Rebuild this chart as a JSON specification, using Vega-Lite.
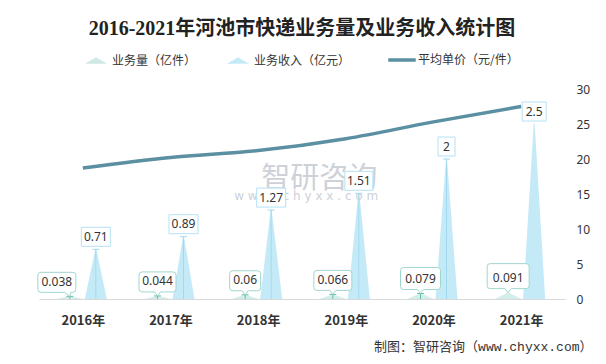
{
  "$schema": "https://vega.github.io/schema/vega-lite/v6.json",
  "width": 526,
  "height": 210,
  "autosize": {"type": "none"},
  "padding": {"left": 39, "top": 89, "right": 41, "bottom": 65},
  "background": "white",
  "title": {
    "text": "2016-2021年河池市快递业务量及业务收入统计图",
    "font": "Liberation Serif, Noto Sans CJK SC",
    "fontSize": 20,
    "fontWeight": "bold",
    "color": "#222222",
    "anchor": "middle",
    "offset": 15
  },
  "config": {"view": {"stroke": null}, "axis": {"grid": false}},
  "data": {
    "values": [
      {"year": "2016年", "volume": 0.038, "revenue": 0.71, "price": 18.7},
      {"year": "2017年", "volume": 0.044, "revenue": 0.89, "price": 20.2},
      {"year": "2018年", "volume": 0.06, "revenue": 1.27, "price": 21.2},
      {"year": "2019年", "volume": 0.066, "revenue": 1.51, "price": 22.9},
      {"year": "2020年", "volume": 0.079, "revenue": 2, "price": 25.3},
      {"year": "2021年", "volume": 0.091, "revenue": 2.5, "price": 27.5}
    ]
  },
  "encoding": {
    "x": {
      "field": "year",
      "type": "nominal",
      "sort": null,
      "scale": {"type": "point", "padding": 0.5},
      "axis": {
        "labelAngle": 0,
        "labelFont": "Noto Sans CJK SC",
        "labelFontWeight": "bold",
        "labelFontSize": 13,
        "labelColor": "#333333",
        "labelPadding": 15,
        "ticks": false,
        "domainColor": "#d9d9d9",
        "title": "制图：智研咨询（www.chyxx.com）",
        "titleFont": "Liberation Mono, Noto Sans CJK SC",
        "titleFontSize": 13,
        "titleFontWeight": "normal",
        "titleColor": "#333333",
        "titleX": 553,
        "titleY": 47,
        "titleAlign": "right",
        "titleBaseline": "middle"
      }
    }
  },
  "layer": [
    {
      "transform": [
        {"fold": ["volume", "revenue"], "as": ["series", "value"]},
        {"impute": "value", "key": "series", "keyvals": ["base"], "groupby": ["year"], "value": 0}
      ],
      "resolve": {"scale": {"size": "independent"}},
      "layer": [
        {
          "transform": [{"filter": "datum.series !== 'revenue'"}],
          "mark": {"type": "trail", "clip": true, "xOffset": -13},
          "encoding": {
            "y": {"field": "value", "type": "quantitative", "scale": {"domain": [0, 3], "nice": false}, "axis": null},
            "detail": {"field": "year", "type": "nominal"},
            "order": {"field": "value", "type": "quantitative"},
            "size": {"field": "value", "type": "quantitative", "scale": {"domain": [0, 0.01], "range": [27, 0], "clamp": true, "zero": false, "nice": false}, "legend": null},
            "color": {
              "datum": "业务量（亿件）",
              "scale": {
                "domain": ["业务量（亿件）", "业务收入（亿元）", "平均单价（元/件）"],
                "range": ["#d3ede9", "#c4eaf8", "#5b8fa2"]
              },
              "legend": {
                "title": null,
                "orient": "none",
                "legendX": 51,
                "legendY": -35,
                "direction": "horizontal",
                "symbolSize": 484,
                "labelOffset": 10,
                "columnPadding": 30,
                "labelFont": "Noto Sans CJK SC",
                "labelFontSize": 12,
                "labelColor": "#333333",
                "encode": {
                  "symbols": {
                    "update": {
                      "shape": {"signal": "datum.value === '平均单价（元/件）' ? 'M-1.25,0H1.25' : 'M-1,0.3L0,-0.3L1,0.3Z'"},
                      "fill": {"signal": "datum.value === '平均单价（元/件）' ? 'transparent' : (datum.value === '业务量（亿件）' ? '#cfe9e5' : '#c4eaf8')"},
                      "stroke": {"signal": "datum.value === '平均单价（元/件）' ? '#5b8fa2' : 'transparent'"},
                      "strokeWidth": {"signal": "datum.value === '平均单价（元/件）' ? 3.5 : 0"},
                      "opacity": {"value": 1}
                    }
                  }
                }
              }
            }
          }
        },
        {
          "transform": [{"filter": "datum.series !== 'volume'"}],
          "mark": {"type": "trail", "clip": true, "xOffset": 13},
          "encoding": {
            "y": {"field": "value", "type": "quantitative", "scale": {"domain": [0, 3], "nice": false}, "axis": null},
            "detail": {"field": "year", "type": "nominal"},
            "order": {"field": "value", "type": "quantitative"},
            "size": {"field": "value", "type": "quantitative", "scale": {"domain": [0, 0.01], "range": [22, 0], "clamp": true, "zero": false, "nice": false}, "legend": null},
            "color": {"datum": "业务收入（亿元）"}
          }
        }
      ]
    },
    {
      "mark": {"type": "line", "strokeWidth": 3.5, "interpolate": "monotone"},
      "encoding": {
        "y": {
          "field": "price",
          "type": "quantitative",
          "scale": {"domain": [0, 30], "nice": false},
          "axis": {
            "orient": "right",
            "values": [0, 5, 10, 15, 20, 25, 30],
            "domain": false,
            "ticks": false,
            "grid": false,
            "labelPadding": 11,
            "labelFont": "Noto Sans",
            "labelFontSize": 12,
            "labelColor": "#333333",
            "title": null
          }
        },
        "color": {"datum": "平均单价（元/件）"}
      }
    },
    {
      "resolve": {"scale": {"shape": "independent"}},
      "layer": [
        {
          "transform": [{"filter": "datum.year === '2018年'"}],
          "mark": {"type": "text", "font": "Noto Sans CJK SC", "fontSize": 29, "color": "#cdd1d8", "dx": 61},
          "encoding": {
            "y": {"datum": 1.72, "type": "quantitative", "scale": {"domain": [0, 3], "nice": false}, "axis": null},
            "text": {"value": "智研咨询"}
          }
        },
        {
          "transform": [{"filter": "datum.year === '2018年'"}],
          "mark": {"type": "text", "font": "DejaVu Sans", "fontSize": 12, "color": "#cdd1d8", "dx": 48},
          "encoding": {
            "y": {"datum": 1.47, "type": "quantitative"},
            "text": {"value": "w w w . c h y x x . c o m"}
          }
        },
        {
          "transform": [{"filter": "datum.year !== '2021年'"}],
          "mark": {"type": "rule", "color": "#a3d9ee", "strokeWidth": 1, "xOffset": 13},
          "encoding": {
            "y": {"field": "revenue", "type": "quantitative"},
            "y2": {"datum": 0}
          }
        },
        {
          "transform": [{"filter": "datum.year !== '2021年'"}],
          "mark": {"type": "tick", "color": "#a3d9ee", "thickness": 1, "size": 7, "xOffset": 13, "opacity": 1},
          "encoding": {"y": {"field": "revenue", "type": "quantitative"}}
        },
        {
          "mark": {"type": "point", "filled": true, "fill": "white", "stroke": "#b4e2f3", "strokeWidth": 1, "size": 4, "xOffset": 13, "opacity": 1},
          "encoding": {
            "y": {"field": "revenue", "type": "quantitative"},
            "shape": {
              "field": "year",
              "type": "nominal",
              "scale": {
                "domain": ["2016年", "2017年", "2018年", "2019年", "2020年", "2021年"],
                "range": [
                  "M-14.5,-22H14.5V-3H-14.5Z",
                  "M-14.5,-22H14.5V-3H-14.5Z",
                  "M-14.5,-22H14.5V-3H-14.5Z",
                  "M-14,-22H14V-3H-14Z",
                  "M-8.5,-22H8.5V-3H-8.5Z",
                  "M-12,-22H12V-3H-12Z"
                ]
              },
              "legend": null
            }
          }
        },
        {
          "mark": {"type": "text", "font": "Noto Sans", "fontSize": 12, "color": "#333333", "dx": 13, "dy": -12.5},
          "encoding": {
            "y": {"field": "revenue", "type": "quantitative"},
            "text": {"field": "revenue", "type": "quantitative"}
          }
        },
        {
          "transform": [{"filter": "datum.year !== '2021年'"}],
          "mark": {"type": "rule", "color": "#62bcab", "strokeWidth": 1, "xOffset": -13},
          "encoding": {
            "y": {"field": "volume", "type": "quantitative"},
            "y2": {"datum": 0}
          }
        },
        {
          "transform": [{"filter": "datum.year !== '2021年'"}],
          "mark": {"type": "tick", "color": "#62bcab", "thickness": 1, "size": 7, "xOffset": -13, "opacity": 1},
          "encoding": {"y": {"field": "volume", "type": "quantitative"}}
        },
        {
          "mark": {"type": "point", "filled": true, "fill": "white", "stroke": "#9fd6ce", "strokeWidth": 1, "size": 4, "xOffset": -13, "opacity": 1},
          "encoding": {
            "y": {"field": "volume", "type": "quantitative"},
            "shape": {
              "field": "year",
              "type": "nominal",
              "scale": {
                "domain": ["2016年", "2017年", "2018年", "2019年", "2020年", "2021年"],
                "range": [
                  "M-29,-24H3Q6,-24 6,-21V-7Q6,-4 3,-4H1L0,0L-5,-4H-29Q-32,-4 -32,-7V-21Q-32,-24 -29,-24Z",
                  "M-15.5,-24H15.5Q18.5,-24 18.5,-21V-7Q18.5,-4 15.5,-4H3L0,0L-3,-4H-15.5Q-18.5,-4 -18.5,-7V-21Q-18.5,-24 -15.5,-24Z",
                  "M-12.5,-24H12.5Q15.5,-24 15.5,-21V-7Q15.5,-4 12.5,-4H3L0,0L-3,-4H-12.5Q-15.5,-4 -15.5,-7V-21Q-15.5,-24 -12.5,-24Z",
                  "M-16,-24H16Q19,-24 19,-21V-7Q19,-4 16,-4H3L0,0L-3,-4H-16Q-19,-4 -19,-7V-21Q-19,-24 -16,-24Z",
                  "M-17,-26H17Q20,-26 20,-23V-7Q20,-4 17,-4H3L0,0L-3,-4H-17Q-20,-4 -20,-7V-23Q-20,-26 -17,-26Z",
                  "M-18,-29H18Q21,-29 21,-26V-7Q21,-4 18,-4H3L0,0L-3,-4H-18Q-21,-4 -21,-7V-26Q-21,-29 -18,-29Z"
                ]
              },
              "legend": null
            }
          }
        },
        {
          "transform": [{"filter": "datum.year !== '2016年'"}],
          "mark": {"type": "text", "font": "Noto Sans", "fontSize": 12, "color": "#333333", "dx": -13, "dy": -14.5},
          "encoding": {
            "y": {"field": "volume", "type": "quantitative"},
            "text": {"field": "volume", "type": "quantitative"}
          }
        },
        {
          "transform": [{"filter": "datum.year === '2016年'"}],
          "mark": {"type": "text", "font": "Noto Sans", "fontSize": 12, "color": "#333333", "dx": -26, "dy": -14},
          "encoding": {
            "y": {"field": "volume", "type": "quantitative"},
            "text": {"field": "volume", "type": "quantitative"}
          }
        }
      ]
    }
  ],
  "resolve": {"scale": {"y": "independent"}}
}
